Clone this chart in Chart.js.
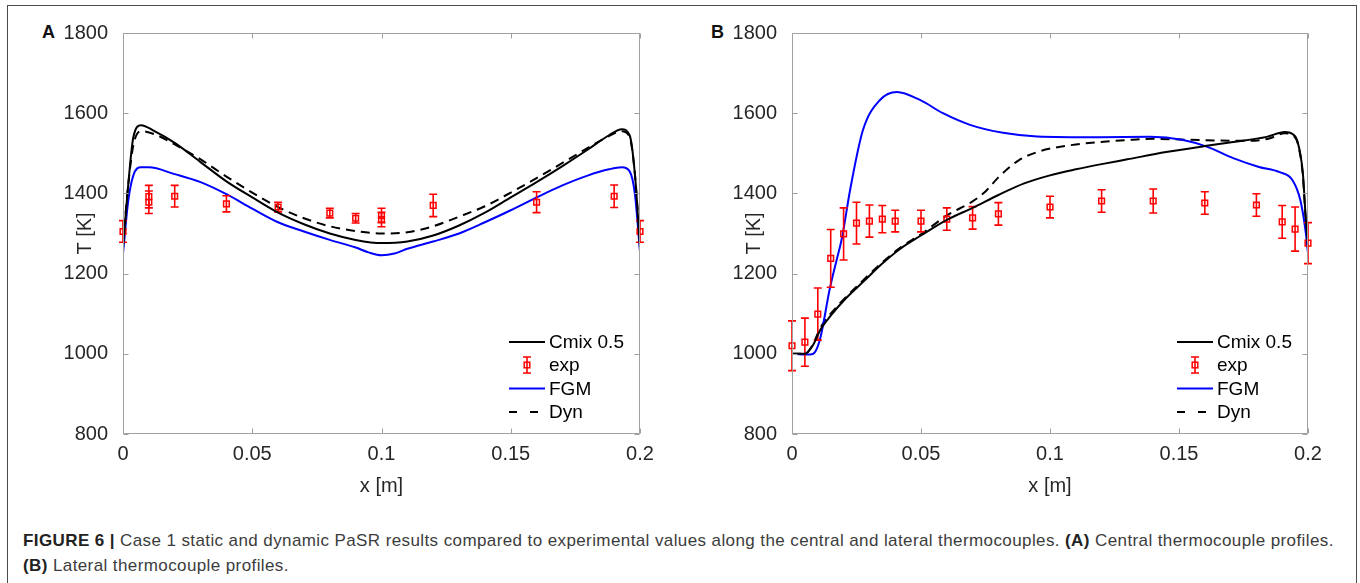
<!DOCTYPE html>
<html><head><meta charset="utf-8">
<script src="https://cdn.jsdelivr.net/npm/chart.js@4.4.1/dist/chart.umd.min.js"></script>
<style>
html,body{margin:0;padding:0;background:#fff;width:1360px;height:583px;overflow:hidden;}
#frame{position:absolute;left:7px;top:5px;width:1350px;height:640px;border:1.5px solid #4a4a4a;border-bottom:none;box-sizing:border-box;}
canvas{position:absolute;top:0;}
.letter{position:absolute;top:23px;font:bold 18px/18px "Liberation Sans",Arial,sans-serif;color:#111;}
#caption{position:absolute;left:23px;top:528px;font:17px/25px "Liberation Sans",Arial,sans-serif;letter-spacing:0.4px;color:#3c3c3c;white-space:nowrap;}
#caption b{color:#222;}
</style></head><body>
<div id="frame"></div>
<div class="letter" style="left:42px">A</div>
<div class="letter" style="left:711px">B</div>
<canvas id="cA" width="660" height="520" style="left:20px;width:660px;height:520px"></canvas>
<canvas id="cB" width="660" height="520" style="left:689px;width:660px;height:520px"></canvas>
<div id="caption"><b>FIGURE 6 |</b> Case 1 static and dynamic PaSR results compared to experimental values along the central and lateral thermocouples. <b>(A)</b> Central thermocouple profiles.<br><b>(B)</b> Lateral thermocouple profiles.</div>
<script>
// ---------- tick labels ----------
const xTicks = [0, 0.05, 0.1, 0.15, 0.2];
const xTickLabels = ['0', '0.05', '0.1', '0.15', '0.2'];
const yTicks = [800, 1000, 1200, 1400, 1600, 1800];
const yTickLabels = ['800', '1000', '1200', '1400', '1600', '1800'];
const seriesNames = ['Cmix 0.5', 'exp', 'FGM', 'Dyn'];

// ---------- Panel A (central) ----------
const aCmixX = [0, 0.002, 0.004, 0.007, 0.012, 0.02, 0.03, 0.04, 0.05, 0.06, 0.07, 0.08, 0.09, 0.1, 0.11, 0.12, 0.13, 0.14, 0.15, 0.16, 0.17, 0.18, 0.188, 0.193, 0.196, 0.198, 0.2];
const aCmixT = [1265, 1420, 1540, 1570, 1556, 1526, 1478, 1430, 1390, 1352, 1323, 1300, 1284, 1276, 1280, 1295, 1320, 1352, 1390, 1428, 1468, 1510, 1545, 1560, 1545, 1450, 1265];
const aDynX = [0, 0.002, 0.004, 0.007, 0.012, 0.02, 0.03, 0.04, 0.05, 0.06, 0.07, 0.08, 0.09, 0.1, 0.11, 0.12, 0.13, 0.14, 0.15, 0.16, 0.17, 0.18, 0.188, 0.193, 0.196, 0.198, 0.2];
const aDynT = [1275, 1420, 1520, 1555, 1548, 1522, 1485, 1442, 1402, 1366, 1338, 1318, 1306, 1300, 1303, 1318, 1342, 1368, 1402, 1438, 1476, 1514, 1543, 1555, 1540, 1450, 1270];
const aFgmX = [0, 0.002, 0.004, 0.007, 0.01, 0.02, 0.03, 0.04, 0.05, 0.06, 0.07, 0.08, 0.09, 0.095, 0.1, 0.105, 0.11, 0.12, 0.13, 0.14, 0.15, 0.16, 0.17, 0.18, 0.188, 0.193, 0.196, 0.198, 0.2];
const aFgmT = [1250, 1380, 1445, 1465, 1465, 1448, 1428, 1398, 1362, 1328, 1305, 1284, 1265, 1253, 1246, 1250, 1262, 1280, 1300, 1328, 1358, 1390, 1420, 1445, 1460, 1465, 1455, 1400, 1255];
const aExpX = [0, 0.01, 0.01, 0.02, 0.04, 0.06, 0.08, 0.09, 0.1, 0.1, 0.12, 0.16, 0.19, 0.2];
const aExpT = [1305, 1378, 1392, 1393, 1374, 1366, 1351, 1338, 1335, 1345, 1370, 1378, 1393, 1305];
const aExpErr = [27, 28, 28, 27, 20, 12, 12, 12, 18, 18, 28, 26, 28, 27];

// ---------- Panel B (lateral) ----------
const bCmixX = [0, 0.005, 0.008, 0.011, 0.015, 0.021, 0.028, 0.035, 0.042, 0.05, 0.06, 0.07, 0.08, 0.09, 0.1, 0.11, 0.12, 0.13, 0.145, 0.16, 0.171, 0.184, 0.191, 0.194, 0.196, 0.198, 0.199, 0.2];
const bCmixT = [1000, 1000, 1020, 1060, 1095, 1139, 1182, 1225, 1262, 1295, 1334, 1364, 1396, 1425, 1445, 1460, 1473, 1485, 1503, 1518, 1528, 1541, 1553, 1548, 1528, 1451, 1351, 1266];
const bDynX = [0, 0.005, 0.008, 0.011, 0.015, 0.021, 0.028, 0.035, 0.042, 0.05, 0.06, 0.07, 0.075, 0.08, 0.088, 0.095, 0.101, 0.11, 0.119, 0.13, 0.14, 0.158, 0.1775, 0.185, 0.191, 0.194, 0.196, 0.198, 0.199, 0.2];
const bDynT = [1000, 1000, 1022, 1065, 1100, 1142, 1186, 1228, 1265, 1298, 1345, 1380, 1405, 1440, 1483, 1503, 1513, 1522, 1528, 1533, 1536, 1533, 1531, 1537, 1550, 1545, 1525, 1445, 1345, 1260];
const bFgmX = [0, 0.004, 0.007, 0.009, 0.011, 0.0147, 0.0173, 0.0194, 0.0225, 0.0275, 0.0341, 0.0407, 0.0496, 0.0585, 0.069, 0.0818, 0.095, 0.119, 0.1388, 0.1516, 0.161, 0.171, 0.181, 0.189, 0.194, 0.197, 0.199, 0.2];
const bFgmT = [1000, 998, 998, 1005, 1040, 1164, 1234, 1290, 1408, 1558, 1633, 1653, 1633, 1600, 1571, 1551, 1542, 1540, 1541, 1533, 1516, 1488, 1466, 1453, 1433, 1384, 1309, 1251];
const bExpX = [0, 0.005, 0.01, 0.015, 0.02, 0.025, 0.03, 0.035, 0.04, 0.05, 0.06, 0.07, 0.08, 0.1, 0.12, 0.14, 0.16, 0.18, 0.19, 0.195, 0.2];
const bExpT = [1020, 1029, 1099, 1238, 1299, 1326, 1331, 1336, 1331, 1331, 1336, 1339, 1349, 1366, 1381, 1381, 1376, 1371, 1329, 1311, 1276];
const bExpErr = [62, 60, 65, 72, 65, 52, 40, 34, 27, 27, 28, 28, 28, 27, 28, 30, 28, 28, 41, 55, 51];

const FONT = '"Liberation Sans", Arial, Helvetica, sans-serif';
const RED = '#ff0000', BLUE = '#0000ff', BLACK = '#000000';

function pts(xs, ys) { return xs.map((x, i) => ({x: x, y: ys[i]})); }

const errorBarPlugin = {
  id: 'errorBars',
  beforeDatasetDraw(chart, args) {
    const ds = chart.data.datasets[args.index];
    if (!ds.errors) return;
    const {ctx, scales: {x, y}} = chart;
    ctx.save();
    ctx.strokeStyle = ds.borderColor; ctx.lineWidth = 1.6;
    ds.data.forEach((p, i) => {
      const px = x.getPixelForValue(p.x);
      const y0 = y.getPixelForValue(p.y - ds.errors[i]);
      const y1 = y.getPixelForValue(p.y + ds.errors[i]);
      ctx.beginPath();
      ctx.moveTo(px, y0); ctx.lineTo(px, y1);
      ctx.moveTo(px - 4, y0); ctx.lineTo(px + 4, y0);
      ctx.moveTo(px - 4, y1); ctx.lineTo(px + 4, y1);
      ctx.stroke();
    });
    ctx.restore();
  }
};

const boxPlugin = {
  id: 'boxTicks',
  afterDatasetsDraw(chart) {
    const {ctx, chartArea: a, scales: {x, y}} = chart;
    ctx.save();
    ctx.strokeStyle = '#a0a0a0'; ctx.lineWidth = 1;
    const L = Math.round(a.left) + 0.5, R = Math.round(a.right) - 0.5, T = Math.round(a.top) + 0.5, B = Math.round(a.bottom) - 0.5;
    ctx.beginPath();
    ctx.rect(L, T, R - L, B - T);
    xTicks.forEach(v => {
      const px = Math.round(x.getPixelForValue(v)) + 0.5;
      ctx.moveTo(px, B); ctx.lineTo(px, B - 5);
      ctx.moveTo(px, T); ctx.lineTo(px, T + 5);
    });
    yTicks.forEach(v => {
      const py = Math.round(y.getPixelForValue(v)) + 0.5;
      ctx.moveTo(L, py); ctx.lineTo(L + 5, py);
      ctx.moveTo(R, py); ctx.lineTo(R - 5, py);
    });
    ctx.stroke();
    ctx.restore();
  }
};

const legendPlugin = {
  id: 'matLegend',
  afterDraw(chart) {
    const {ctx, chartArea: a} = chart;
    const x0 = a.right - 131, x1 = a.right - 95, tx = a.right - 91;
    const rows = [92, 69, 45.5, 22];
    ctx.save();
    ctx.font = '19px ' + FONT;
    ctx.textBaseline = 'middle';
    ctx.fillStyle = '#000';
    chart.data.datasets.forEach((ds, i) => {
      const yy = a.bottom - rows[i];
      if (ds.errors) {
        const cx = (x0 + x1) / 2;
        ctx.strokeStyle = ds.borderColor; ctx.lineWidth = 1.6;
        ctx.beginPath();
        ctx.moveTo(cx, yy - 8); ctx.lineTo(cx, yy + 8);
        ctx.moveTo(cx - 4, yy - 8); ctx.lineTo(cx + 4, yy - 8);
        ctx.moveTo(cx - 4, yy + 8); ctx.lineTo(cx + 4, yy + 8);
        ctx.stroke();
        ctx.lineWidth = 1.5;
        ctx.strokeRect(cx - 2.8, yy - 2.8, 5.6, 5.6);
      } else {
        ctx.strokeStyle = ds.borderColor; ctx.lineWidth = ds.borderWidth;
        const dashed = ds.borderDash && ds.borderDash.length;
        ctx.setLineDash(dashed ? [8, 13] : []);
        ctx.beginPath(); ctx.moveTo(x0, yy); ctx.lineTo(dashed ? x0 + 29 : x1, yy); ctx.stroke();
        ctx.setLineDash([]);
      }
      ctx.fillStyle = '#000';
      ctx.fillText(ds.label, tx, yy + 1);
    });
    ctx.restore();
  }
};

function makeChart(id, cmix, exp, fgm, dyn, padRight) {
  const lineDs = (label, data, color, dash) => ({
    label: label, data: data, borderColor: color, backgroundColor: color,
    borderWidth: 2, borderDash: dash, pointRadius: 0, fill: false,
    cubicInterpolationMode: 'monotone'
  });
  return new Chart(document.getElementById(id), {
    type: 'line',
    data: {
      datasets: [
        lineDs(seriesNames[0], cmix, BLACK, []),
        {label: seriesNames[1], data: exp.data, errors: exp.err, showLine: false, clip: false,
         borderColor: RED, backgroundColor: 'rgba(0,0,0,0)', pointStyle: 'rect',
         pointRadius: 4, pointBorderWidth: 1.5, pointBorderColor: RED, pointBackgroundColor: 'rgba(0,0,0,0)'},
        lineDs(seriesNames[2], fgm, BLUE, []),
        lineDs(seriesNames[3], dyn, BLACK, [9, 6])
      ]
    },
    options: {
      responsive: false, animation: false, devicePixelRatio: 1,
      layout: {padding: {top: 33, right: padRight, left: 0, bottom: 0}},
      plugins: {legend: {display: false}, tooltip: {enabled: false}},
      scales: {
        x: {
          type: 'linear', min: 0, max: 0.2,
          afterBuildTicks: s => { s.ticks = xTicks.map(v => ({value: v})); },
          afterFit: s => { s.height = 86; },
          grid: {display: false}, border: {display: false},
          ticks: {padding: 0, color: '#262626', font: {family: FONT, size: 20},
                  callback: (v) => xTickLabels[xTicks.indexOf(v)], maxRotation: 0, autoSkip: false},
          title: {display: true, text: 'x [m]', color: '#262626', font: {family: FONT, size: 20}, padding: {top: 0, bottom: 22}}
        },
        y: {
          min: 800, max: 1800,
          afterBuildTicks: s => { s.ticks = yTicks.map(v => ({value: v})); },
          afterFit: s => { s.width = 103; },
          grid: {display: false}, border: {display: false},
          ticks: {padding: 7, color: '#262626', font: {family: FONT, size: 20},
                  callback: (v) => yTickLabels[yTicks.indexOf(v)], autoSkip: false},
          title: {display: true, text: 'T [K]', color: '#262626', font: {family: FONT, size: 20}, padding: {top: 53, bottom: 0}}
        }
      }
    },
    plugins: [errorBarPlugin, boxPlugin, legendPlugin]
  });
}

makeChart('cA', pts(aCmixX, aCmixT), {data: pts(aExpX, aExpT), err: aExpErr}, pts(aFgmX, aFgmT), pts(aDynX, aDynT), 40);
makeChart('cB', pts(bCmixX, bCmixT), {data: pts(bExpX, bExpT), err: bExpErr}, pts(bFgmX, bFgmT), pts(bDynX, bDynT), 41);
</script>
</body></html>
